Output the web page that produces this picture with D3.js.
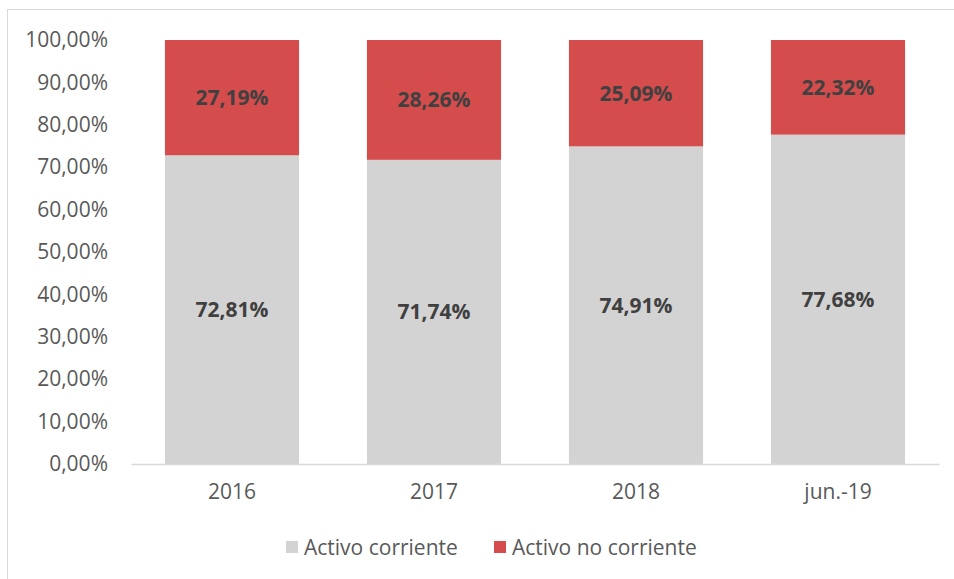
<!DOCTYPE html>
<html><head><meta charset="utf-8">
<script src="https://cdn.jsdelivr.net/npm/d3@7"></script>
<style>body{margin:0;background:#fff}svg{display:block}</style>
</head><body>
<svg id="c" width="954" height="579"></svg>
<script>
const categories = ["2016", "2017", "2018", "jun.-19"];
const corriente = [72.81, 71.74, 74.91, 77.68];
const noCorriente = [27.19, 28.26, 25.09, 22.32];
const seriesNames = ["Activo corriente", "Activo no corriente"];
const seriesColors = ["#d3d3d3", "#d44c4c"];
const yTicks = [0,10,20,30,40,50,60,70,80,90,100];

const svg = d3.select("#c");
const font = "'Open Sans', sans-serif";
// outer border
svg.append("rect").attr("x",7.5).attr("y",9.5).attr("width",960).attr("height",580)
  .attr("fill","none").attr("stroke","#d9d9d9");

const m = {l:131, r:939, t:40, b:464};
const x = d3.scaleBand().domain(categories).range([m.l,m.r]).paddingInner(0.336).paddingOuter(0.168);
const y = d3.scaleLinear().domain([0,100]).range([m.b,m.t]);
const fmt = v => d3.format(".2f")(v).replace(".",",") + "%";

const rows = categories.map((c,i)=>({cat:c, a:corriente[i], b:noCorriente[i]}));
const stack = d3.stack().keys(["a","b"])(rows);

const g = svg.append("g");
stack.forEach((s,si)=>{
  g.selectAll(null).data(s).join("rect")
    .attr("x",d=>x(d.data.cat)).attr("width",x.bandwidth())
    .attr("y",d=>y(d[1])).attr("height",d=>y(d[0])-y(d[1]))
    .attr("fill",seriesColors[si]);
  g.selectAll(null).data(s).join("text")
    .attr("x",d=>x(d.data.cat)+x.bandwidth()/2)
    .attr("y",d=>(y(d[0])+y(d[1]))/2)
    .attr("dy","0.35em").attr("text-anchor","middle")
    .attr("font-family",font).attr("font-weight","bold").attr("font-size",21)
    .attr("fill","#404040")
    .text(d=>fmt(d.data[si===0?"a":"b"]));
});

// y axis
const ya = svg.append("g").attr("transform",`translate(${m.l},0)`)
  .call(d3.axisLeft(y).tickValues(yTicks).tickSize(0).tickPadding(23).tickFormat(fmt));
ya.select(".domain").remove();
ya.selectAll("text").attr("font-family",font).attr("font-size",21).attr("fill","#595959");

// x axis
const xa = svg.append("g").attr("transform",`translate(0,${m.b})`)
  .call(d3.axisBottom(x).tickSize(0).tickPadding(20));
xa.select(".domain").attr("stroke","#d9d9d9").attr("stroke-width",1.5);
xa.selectAll("text").attr("font-family",font).attr("font-size",21).attr("fill","#595959");

// legend
const legX = [286, 494];
seriesNames.forEach((n,i)=>{
  svg.append("rect").attr("x",legX[i]).attr("y",541).attr("width",12).attr("height",12).attr("fill",seriesColors[i]);
  svg.append("text").attr("x",legX[i]+18).attr("y",548).attr("dy","0.35em")
    .attr("font-family",font).attr("font-size",21).attr("fill","#595959").text(n);
});
</script>
</body></html>
